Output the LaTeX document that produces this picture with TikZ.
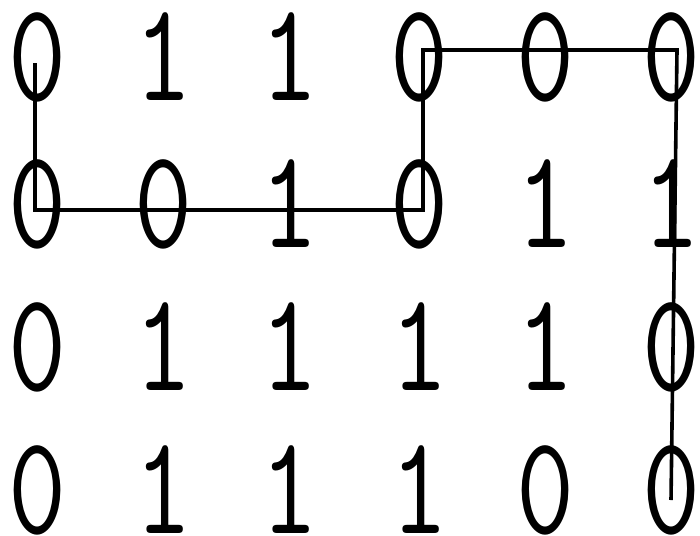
\documentclass[tikz,border=0pt]{standalone}
\usepackage{graphicx}
\begin{document}
\begin{tikzpicture}[x=1pt,y=-1pt,
  digit/.style={inner sep=0pt,outer sep=0pt,anchor=center,
    font=\ttfamily\fontsize{141}{141}\selectfont},
  pathline/.style={line width=3.6pt,line join=miter,line cap=butt}]
\useasboundingbox (0,0) rectangle (700,535);
\fill[white] (0,0) rectangle (700,535);
% digits
\def\cols{{38,164,290,420,546,672}}
\foreach \r/\y/\row in {1/57/{0,1,1,0,0,0},2/204/{0,0,1,0,1,1},3/347/{0,1,1,1,1,0},4/490/{0,1,1,1,0,0}}{
  \foreach \d [count=\c] in \row {
    \pgfmathsetmacro{\xx}{\cols[\c-1]}
    \node[digit] (n\r\c) at (\xx,\y) {\scalebox{0.8}[1]{\d}};
  }
}
% path
\coordinate (p1) at (35,63);
\coordinate (p2) at (35,210);
\coordinate (p3) at (423,210);
\coordinate (p4) at (423,50);
\coordinate (p5) at (677,50);
\coordinate (p6) at (671,500);
\draw[pathline] (p1) -- (p2) -- (p3) -- (p4) -- (p5) -- (p6);
\end{tikzpicture}
\end{document}
